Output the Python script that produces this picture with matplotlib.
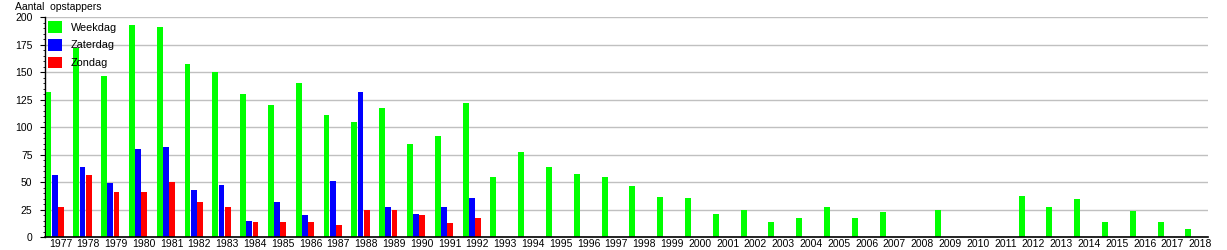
import matplotlib
matplotlib.use("Agg")
import matplotlib.pyplot as plt
import numpy as np
from matplotlib.ticker import MultipleLocator

years = list(range(1977, 2019))
weekdag = [132, 172, 147, 193, 191, 158, 150, 130, 120, 140, 111, 105, 118, 85, 92, 122,
           55, 78, 64, 58, 55, 47, 37, 36, 21, 25, 14, 18, 28, 18, 23, 0, 25, 0, 0,
           38, 28, 35, 14, 24, 14, 8]
zaterdag = [57, 64, 49, 80, 82, 43, 48, 15, 32, 20, 51, 132, 28, 21, 28, 36] + [0] * 26
zondag = [28, 57, 41, 41, 50, 32, 28, 14, 14, 14, 11, 25, 25, 20, 13, 18] + [0] * 26
series_names = ["Weekdag", "Zaterdag", "Zondag"]
series_colors = ["#00ff00", "#0000ff", "#ff0000"]

plt.rcParams['font.family'] = ['Liberation Sans', 'DejaVu Sans']
W, H = 1227, 250
fig = plt.figure(figsize=(W / 100, H / 100), dpi=100)
ax = fig.add_axes([44.5 / W, 12.7 / H, (1208 - 44.5) / W, (237.3 - 17.3) / H])

x = np.arange(len(years))
bw = 0.222
for k, (vals, name, col) in enumerate(zip([weekdag, zaterdag, zondag], series_names, series_colors)):
    ax.bar(x + k * bw + 0.01, vals, width=bw * 0.95, align='edge', color=col,
           label=name, linewidth=0, zorder=3)

ax.set_xlim(-0.03, 41.82)
ax.set_ylim(0, 200)
ax.set_xticks(x + 0.54)
ax.set_xticklabels([str(y) for y in years], fontsize=7.5)
ax.tick_params(axis='x', length=0, pad=1.5)
ax.yaxis.set_major_locator(MultipleLocator(25))
ax.yaxis.set_minor_locator(MultipleLocator(5))
ax.tick_params(axis='y', which='major', length=3.6, width=0.8, pad=5, labelsize=7.5)
ax.tick_params(axis='y', which='minor', length=1.8, width=0.6)
ax.grid(axis='y', which='major', color='#c0c0c0', linewidth=1.0, zorder=0)
for s in ['top', 'right']:
    ax.spines[s].set_visible(False)
ax.spines['left'].set_linewidth(1.0)
ax.spines['bottom'].set_linewidth(1.2)
ax.spines['bottom'].set_zorder(5)

leg = fig.legend(loc='upper left', bbox_to_anchor=(48 / W, 1 - 21 / H), frameon=False,
                 fontsize=7.8, handlelength=1.3, handleheight=1.3, handletextpad=0.8,
                 labelspacing=0.55, borderpad=0, borderaxespad=0)
leg.set_zorder(10)

fig.text(15 / W, 1 - 2.5 / H, "Aantal  opstappers", fontsize=7.5, ha='left', va='top')

fig.savefig("out.png", dpi=100)
